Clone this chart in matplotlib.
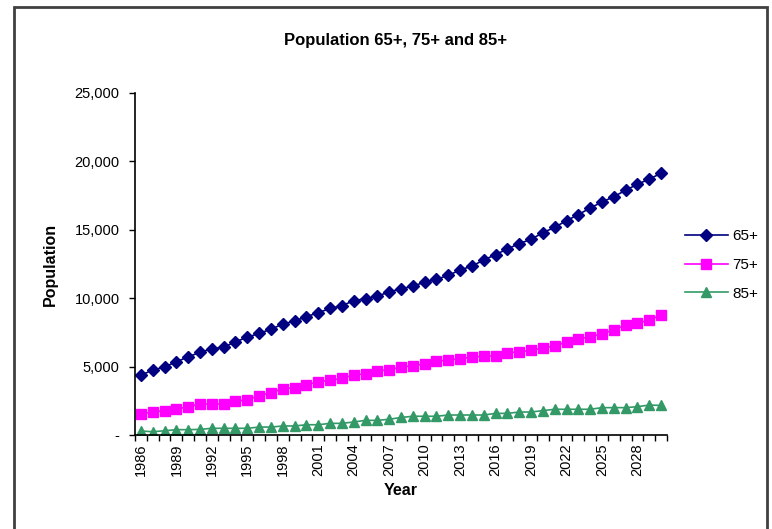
import numpy as np
from matplotlib import pyplot as plt
from matplotlib.patches import Rectangle

plt.rcParams['font.family'] = ['Liberation Sans', 'DejaVu Sans']

years = list(range(1986, 2031))

pop_65 = [4390, 4730, 4990, 5340, 5720, 6040, 6310, 6410, 6820, 7140,
          7430, 7730, 8110, 8330, 8650, 8940, 9250, 9450, 9820, 9960,
          10160, 10450, 10700, 10870, 11180, 11380, 11670, 12060, 12350, 12790,
          13190, 13600, 13990, 14300, 14790, 15180, 15670, 16110, 16590, 17030,
          17420, 17890, 18330, 18710, 19130]

pop_75 = [1540, 1680, 1780, 1880, 2070, 2270, 2270, 2270, 2460, 2580,
          2870, 3090, 3380, 3460, 3650, 3900, 4000, 4140, 4390, 4480,
          4700, 4760, 4970, 5070, 5190, 5390, 5480, 5580, 5680, 5770,
          5770, 6020, 6070, 6190, 6360, 6510, 6800, 7000, 7190, 7380,
          7700, 8020, 8190, 8380, 8790]

pop_85 = [290, 240, 310, 390, 390, 410, 490, 490, 490, 490,
          580, 580, 660, 660, 750, 750, 850, 850, 950, 1070,
          1070, 1150, 1280, 1370, 1370, 1370, 1460, 1460, 1460, 1460,
          1580, 1580, 1680, 1680, 1780, 1880, 1880, 1880, 1880, 2000,
          2000, 2000, 2070, 2190, 2160]

fig = plt.figure(figsize=(7.72, 5.29), dpi=100)
ax = fig.add_axes([135/772, 1 - 435/529, 532/772, 342/529])

x = np.arange(len(years))
ax.plot(x, pop_65, color='#000080', marker='D', markersize=6.5, lw=1.2, label='65+')
ax.plot(x, pop_75, color='#FF00FF', marker='s', markersize=6.5, lw=1.2, label='75+')
ax.plot(x, pop_85, color='#339966', marker='^', markersize=7.5, lw=1.2, label='85+')

ax.set_xlim(-0.5, len(years) - 0.5)
ax.set_ylim(0, 25000)

# category axis: labels every 3 years, ticks between categories
ax.set_xticks(x[::3])
ax.set_xticklabels([str(y) for y in years[::3]], rotation=90, fontsize=10.5)
ax.set_xticks(np.arange(len(years) + 1) - 0.5, minor=True)
ax.tick_params(axis='x', which='major', length=0, pad=6)
ax.tick_params(axis='x', which='minor', length=4, direction='out', width=1)

yt = [0, 5000, 10000, 15000, 20000, 25000]
ax.set_yticks(yt)
ax.set_yticklabels(['-'] + [f'{v:,}' for v in yt[1:]], fontsize=10.5)
ax.tick_params(axis='y', length=4, direction='out', width=1, pad=7)

for s in ['top', 'right']:
    ax.spines[s].set_visible(False)
for s in ['left', 'bottom']:
    ax.spines[s].set_linewidth(1.2)

ax.set_xlabel('Year', fontsize=11.5, fontweight='bold', labelpad=5)
ax.set_ylabel('Population', fontsize=11.5, fontweight='bold', labelpad=12)
fig.text(395/772, 1 - 40/529, 'Population 65+, 75+ and 85+', ha='center', va='center',
         fontsize=12, fontweight='bold')

ax.legend(loc='center left', bbox_to_anchor=(671/772, 1 - 265/529), bbox_transform=fig.transFigure,
          frameon=False, fontsize=11, handlelength=2.8, labelspacing=0.95, handletextpad=0.3)

fig.add_artist(Rectangle((14/772, -0.05), 753/772, 1 - 7/529 + 0.05, transform=fig.transFigure,
                         fill=False, edgecolor='#404040', lw=2, clip_on=False))

fig.savefig('out.png', dpi=100)
